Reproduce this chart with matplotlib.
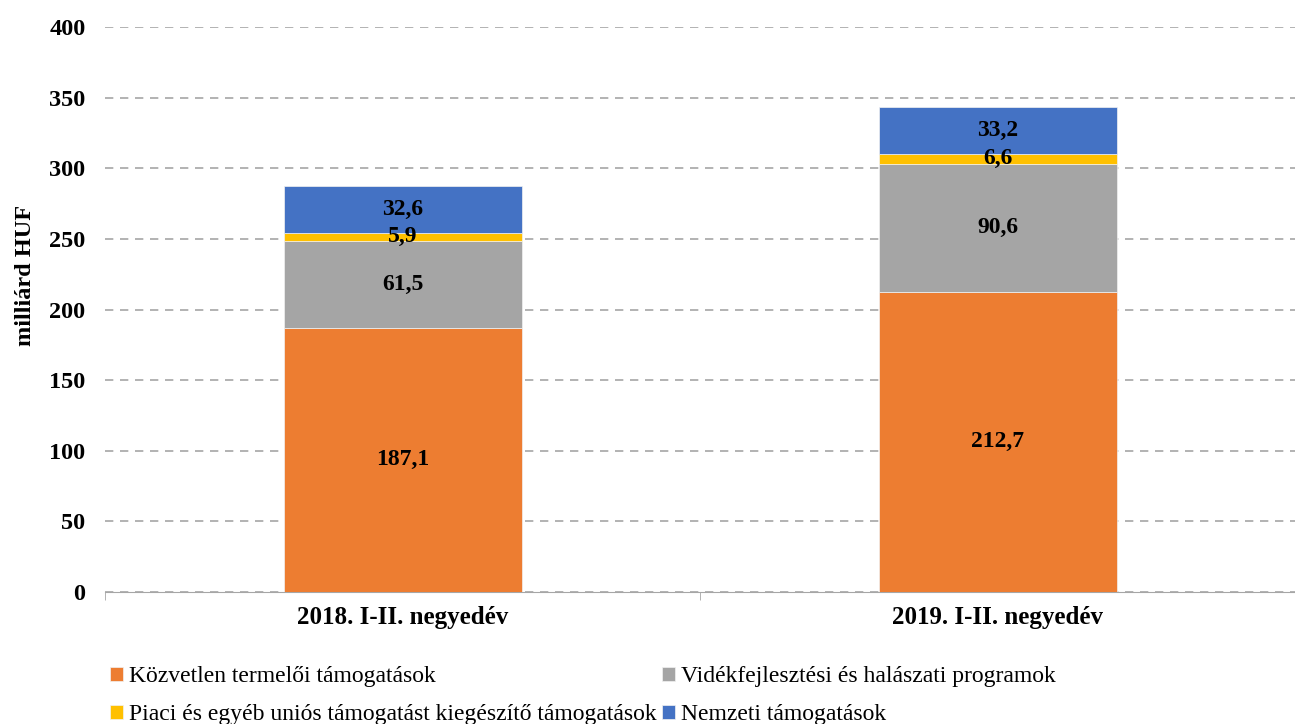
import numpy as np
import matplotlib
matplotlib.use("Agg")
from matplotlib import pyplot as plt

plt.rcParams['font.family'] = ['Liberation Serif', 'DejaVu Serif']

categories = ['2018. I-II. negyedév', '2019. I-II. negyedév']
series_names = ['Közvetlen termelői támogatások',
                'Vidékfejlesztési és halászati programok',
                'Piaci és egyéb uniós támogatást kiegészítő támogatások',
                'Nemzeti támogatások']
kozvetlen = [187.1, 212.7]
videk = [61.5, 90.6]
piaci = [5.9, 6.6]
nemzeti = [32.6, 33.2]
colors = ['#ED7D31', '#A5A5A5', '#FFC000', '#4472C4']

W, H = 1295, 724
fig = plt.figure(figsize=(W / 100, H / 100), dpi=100)
ax = fig.add_axes([105 / W, 1 - 592 / H, (1295 - 105) / W, 565 / H])

x = np.arange(len(categories))
bottom = np.zeros(len(categories))
bars = []
for vals, col, name in zip([kozvetlen, videk, piaci, nemzeti], colors, series_names):
    b = ax.bar(x, vals, 0.4, bottom=bottom, color=col, label=name,
               edgecolor='#F2F2F2', linewidth=0.5, zorder=3)
    bars.append(b)
    for xi, v, b0 in zip(x, vals, bottom):
        ax.text(xi, b0 + v / 2, ('%.1f' % v).replace('.', ','), ha='center', va='center',
                fontsize=17, fontweight='bold', zorder=4)
    bottom = bottom + np.array(vals)

ax.set_ylim(0, 400)
ax.set_xlim(-0.5, -0.5 + 1190 / 600)
ax.set_yticks(np.arange(0, 401, 50))
ax.yaxis.grid(True, linestyle=(0, (5, 4)), color='#A6A6A6', linewidth=1.2, zorder=0)
ax.set_axisbelow(True)
for s in ['top', 'right', 'left']:
    ax.spines[s].set_visible(False)
ax.spines['bottom'].set_color('#A6A6A6')
ax.tick_params(axis='y', length=0, pad=14, labelsize=17.5)
ax.set_xticks(x)
ax.set_xticklabels(categories, fontsize=18, fontweight='bold')
ax.tick_params(axis='x', length=0, pad=10)
ax.set_xticks([-0.5, 0.5, 1.5], minor=True)
ax.tick_params(axis='x', which='minor', length=6, color='#A6A6A6')
for lab in ax.get_yticklabels():
    lab.set_fontweight('bold')
fig.text(26 / W, 1 - 275 / H, 'milliárd HUF', rotation=90, ha='center', va='center',
         fontsize=17.5, fontweight='bold')

handles = [bars[0], bars[2], bars[1], bars[3]]
labels = [series_names[0], series_names[2], series_names[1], series_names[3]]
fig.legend(handles, labels, ncol=2, loc='upper left', bbox_to_anchor=(101 / W, 1 - 657 / H),
           frameon=False, fontsize=17, handlelength=0.55, handleheight=0.55,
           handletextpad=0.25, columnspacing=0.2, labelspacing=0.72, borderaxespad=0)

fig.savefig('out.png', dpi=100)
